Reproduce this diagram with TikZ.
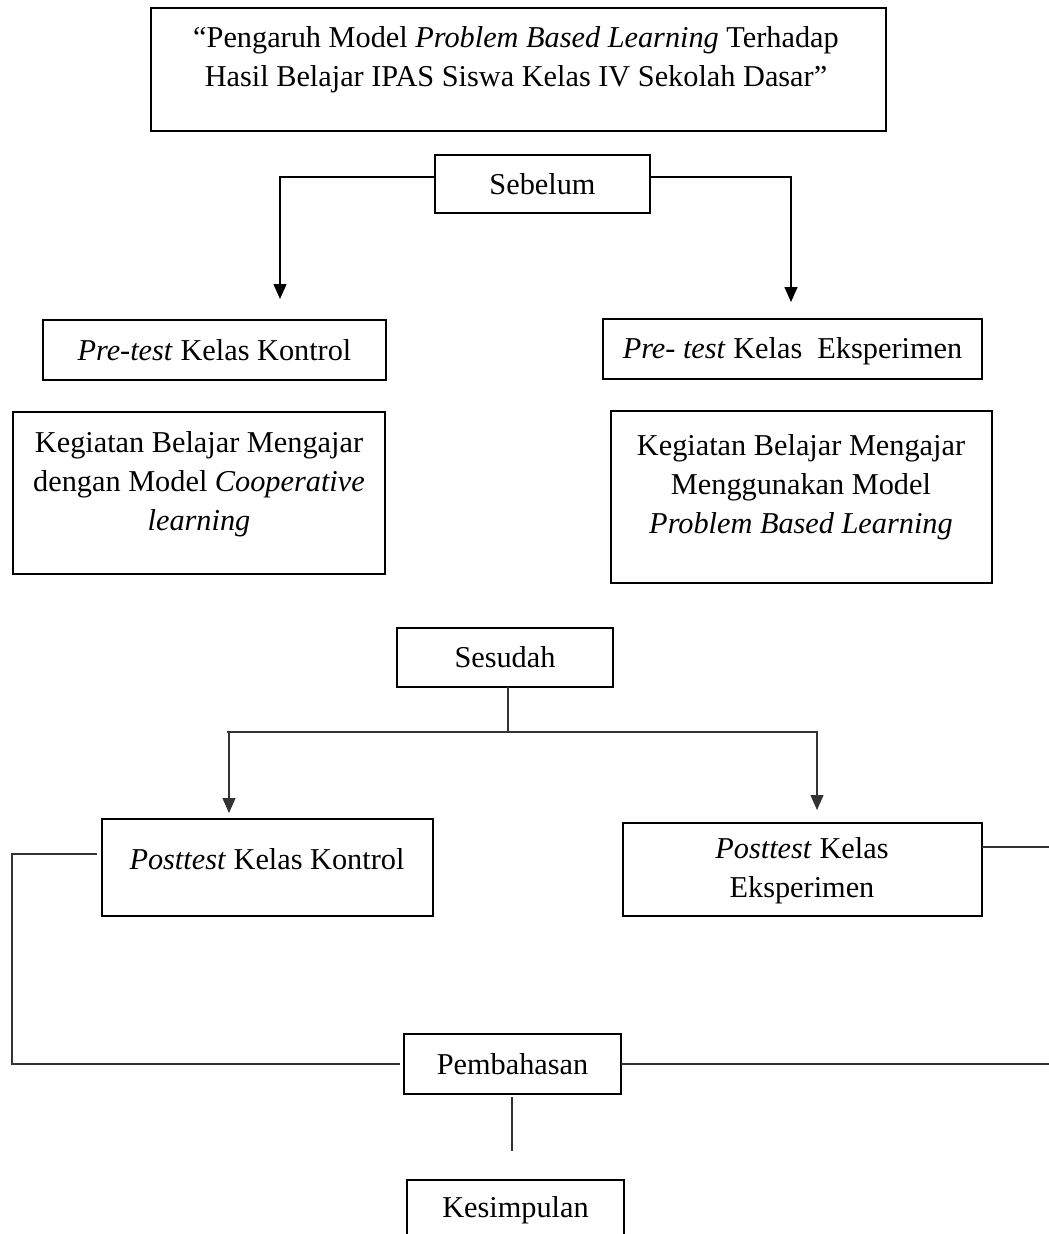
\documentclass[tikz,border=0pt]{standalone}
\usepackage{fontspec}
\setmainfont{Liberation Serif}
\usetikzlibrary{arrows.meta}
\begin{document}
\begin{tikzpicture}[x=1pt,y=-1pt,
  box/.style={draw=black, line width=2pt, inner sep=0pt, outer sep=0pt, rectangle},
  txt/.style={inner sep=0pt, align=center, font=\fontsize{30.3}{39}\selectfont},
  conn/.style={draw=black!80, line width=1.2pt},
  arr/.style={conn, -{Triangle[width=13pt,length=15pt]}}]
\useasboundingbox (0,0) rectangle (1049,1234);
\clip (0,0) rectangle (1049,1234);
% boxes
\node[box, minimum width=735pt, minimum height=123pt] (T) at (518.5,69.5) {};
\node[box, minimum width=215pt, minimum height=58pt] (S) at (542.5,184) {};
\node[box, minimum width=343pt, minimum height=60pt] (PreK) at (214.5,350) {};
\node[box, minimum width=379pt, minimum height=60pt] (PreE) at (792.5,349) {};
\node[box, minimum width=372pt, minimum height=162pt] (KL) at (199,493) {};
\node[box, minimum width=381pt, minimum height=172pt] (KR) at (801.5,497) {};
\node[box, minimum width=216pt, minimum height=59pt] (SD) at (505,657.5) {};
\node[box, minimum width=331pt, minimum height=97pt] (PKo) at (267.5,867.5) {};
\node[box, minimum width=359pt, minimum height=93pt] (PE) at (802.5,869.5) {};
\node[box, minimum width=217pt, minimum height=60pt] (PB) at (512.5,1064) {};
\node[box, minimum width=217pt, minimum height=60pt] (K) at (515.5,1210) {};
% texts
\node[txt] (tT) at (516,60) {“Pengaruh Model \textit{Problem Based Learning} Terhadap\\ Hasil Belajar IPAS Siswa Kelas IV Sekolah Dasar”};
\node[txt] (tS) at (S) {Sebelum};
\node[txt] (tPreK) at (PreK) {\textit{Pre-test} Kelas Kontrol};
\node[txt] (tPreE) at (792.5,351) {\textit{Pre- test} Kelas\ \ Eksperimen};
\node[txt] (tKL) at (199,484) {Kegiatan Belajar Mengajar\\ dengan Model \textit{Cooperative}\\ \textit{learning}};
\node[txt] (tKR) at (801,487) {Kegiatan Belajar Mengajar\\ Menggunakan Model\\ \textit{Problem Based Learning}};
\node[txt] (tSD) at (SD) {Sesudah};
\node[txt] (tPKo) at (267,859) {\textit{Posttest} Kelas Kontrol};
\node[txt] (tPE) at (802,871) {\textit{Posttest} Kelas\\ Eksperimen};
\node[txt] (tPB) at (PB) {Pembahasan};
\node[txt] (tK) at (K) {Kesimpulan};
% free ends
\coordinate (a1) at (280,299);
\coordinate (a2) at (791,302);
\coordinate (j) at (508,732);
\coordinate (hl) at (227,732);
\coordinate (hr) at (818,732);
\coordinate (b1) at (229,813);
\coordinate (b2) at (817,810);
\coordinate (c1) at (12,854);
\coordinate (r1) at (1049,847);
\coordinate (r2) at (1049,1064);
\coordinate (d1) at (512,1151);
% connectors
\draw[arr, line width=1.6pt, draw=black] ([yshift=7pt]S.west) -| (a1);
\draw[arr, line width=1.6pt, draw=black] ([yshift=7pt]S.east) -| (a2);
\draw[conn] ([xshift=3pt]SD.south) -- (j);
\draw[conn] (hl) -- (hr);
\draw[arr] (b1 |- hl) -- (b1);
\draw[arr] (b2 |- hr) -- (b2);
\draw[conn] ([xshift=-5pt,yshift=13.5pt]PKo.west) -- (c1) |- ([xshift=-4pt]PB.west);
\draw[conn] ([yshift=22.5pt]PE.east) -- (r1);
\draw[conn] (PB.east) -- (r2);
\draw[conn] ([yshift=-3pt]PB.south -| d1) -- (d1);
\end{tikzpicture}
\end{document}
